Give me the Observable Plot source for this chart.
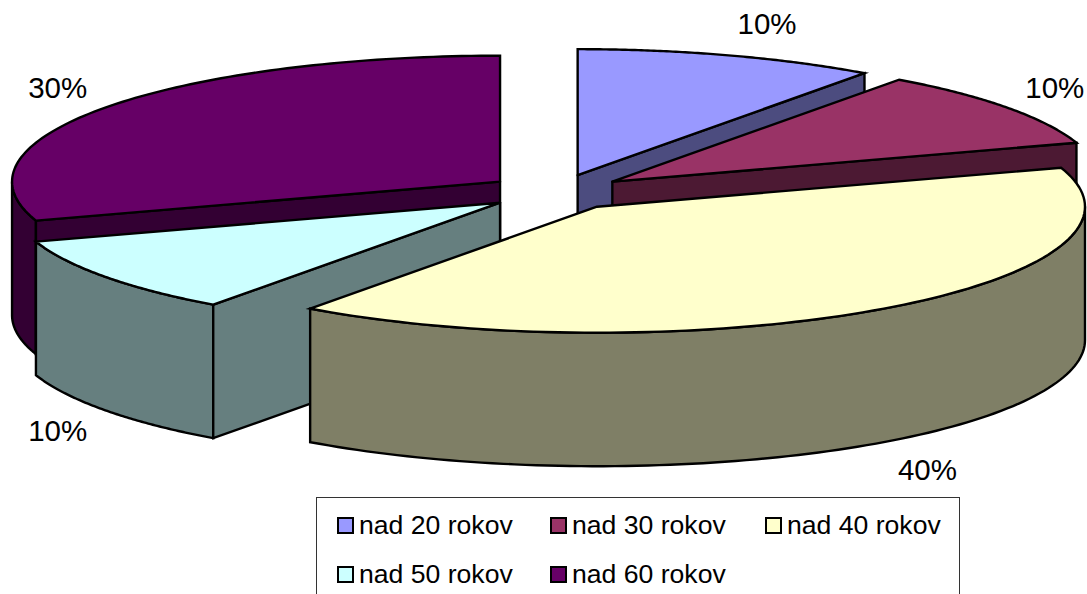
<!DOCTYPE html>
<html>
<head>
<meta charset="utf-8">
<script src="https://cdn.jsdelivr.net/npm/d3@7"></script>
<script src="https://cdn.jsdelivr.net/npm/@observablehq/plot@0.6"></script>
<style>
  html, body { margin: 0; padding: 0; background: #fff; overflow: hidden; }
  body { width: 1087px; height: 594px; position: relative; font-family: "Liberation Sans", Arial, sans-serif; color: #000; }
  svg { display: block; }
  #legend { position: absolute; left: 316px; top: 497px; width: 642px; height: 110px; border: 1px solid #333; box-sizing: content-box; background: #fff; }
  #legend .item { position: absolute; display: flex; align-items: center; font-size: 26.6px; line-height: 30px; white-space: nowrap; }
  #legend .swatch { width: 13px; height: 13px; border: 2px solid #000; margin-right: 5px; flex: none; }
</style>
</head>
<body>
<div id="chart"></div>
<div id="legend"></div>
<script>
const categories = ["nad 20 rokov", "nad 30 rokov", "nad 40 rokov", "nad 50 rokov", "nad 60 rokov"];
const values = [10, 10, 40, 10, 30];
const valueLabels = ["10%", "10%", "40%", "10%", "30%"];
const topColors = ["#9999FF", "#993366", "#FFFFCC", "#CCFFFF", "#660066"];
const sideColors = ["#4C4C7F", "#4C1933", "#7F7F66", "#667F7F", "#330033"];

// Geometry of the tilted pie, in pie units (radius 1 on the plane).
const W = 1087, H = 497;
const pxPerX = 488, pxPerY = 126;       // ellipse radii in pixels
const cx = 555.7, cy = 191.7;           // pie centre in pixels
const explode = 0.1422, depth = 133.5 / pxPerY;
const rad = d => d * Math.PI / 180;
const total = d3.sum(values);

let acc = 0;
const slices = values.map((v, i) => {
  const a0 = acc / total * 360;
  acc += v;
  const a1 = acc / total * 360;
  const mid = rad((a0 + a1) / 2);
  return {i, a0, a1, mid, ax: explode * Math.sin(mid), ay: explode * Math.cos(mid)};
});

const onRim = (s, a) => ({x: s.ax + Math.sin(rad(a)), y: s.ay + Math.cos(rad(a))});
const apex = s => ({x: s.ax, y: s.ay});
const drop = p => ({x: p.x, y: p.y - depth});
const arc = (s, a0, a1) => d3.range(0, 1.0001, 1 / 96).map(t => onRim(s, a0 + (a1 - a0) * t));
const close = pts => [...pts, pts[0]];

const topFace = s => close([apex(s), ...arc(s, s.a0, s.a1)]);
const wall = (s, a) => { const p = apex(s), q = onRim(s, a); return close([p, q, drop(q), drop(p)]); };
const outer = (s, a0, a1) => { const r = arc(s, a0, a1); return close([...r, ...r.slice().reverse().map(drop)]); };

const face = (pts, fill) => Plot.line(pts, {
  x: "x", y: "y", fill, stroke: "#000", strokeWidth: 2.4,
  strokeLinejoin: "miter", strokeMiterlimit: 4, curve: "linear"
});

const [s1, s2, s3, s4, s5] = slices;
const drawOrder = [
  face(wall(s1, s1.a1), sideColors[0]), face(topFace(s1), topColors[0]),
  face(wall(s2, s2.a1), sideColors[1]), face(topFace(s2), topColors[1]),
  face(outer(s5, s5.a0, 270), sideColors[4]), face(wall(s5, s5.a0), sideColors[4]), face(topFace(s5), topColors[4]),
  face(outer(s4, s4.a0, s4.a1), sideColors[3]), face(wall(s4, s4.a0), sideColors[3]), face(topFace(s4), topColors[3]),
  face(outer(s3, 90, s3.a1), sideColors[2]), face(topFace(s3), topColors[2])
];

// Percent labels sit just outside each slice's rim, along its bisector.
const labelData = slices.map(s => {
  const sx = Math.sin(s.mid), cy_ = Math.cos(s.mid);
  return {
    label: valueLabels[s.i],
    x: s.ax + 1.037 * sx + Math.sign(sx) * 33 / pxPerX,
    y: s.ay + 1.26 * cy_ - (cy_ < 0 ? depth + 2 / pxPerY : 0)
  };
});

const chart = Plot.plot({
  width: W, height: H, margin: 0,
  style: {background: "#fff"},
  x: {domain: [-cx / pxPerX, (W - cx) / pxPerX], range: [0, W], axis: null},
  y: {domain: [cy / pxPerY, (cy - H) / pxPerY], range: [0, H], axis: null},
  marks: [
    ...drawOrder,
    Plot.text(labelData, {
      x: "x", y: "y", text: "label", fill: "#000", textAnchor: "middle", lineAnchor: "middle",
      fontSize: 29.5, fontFamily: "'Liberation Sans', Arial, sans-serif"
    })
  ]
});
document.getElementById("chart").append(chart);

const legend = document.getElementById("legend");
categories.forEach((c, i) => {
  const item = document.createElement("div");
  item.className = "item";
  item.style.left = [20, 233, 448, 20, 233][i] + "px";
  item.style.top = (i < 3 ? 12 : 61) + "px";
  const sw = document.createElement("span");
  sw.className = "swatch";
  sw.style.background = topColors[i];
  const tx = document.createElement("span");
  tx.textContent = c;
  item.append(sw, tx);
  legend.append(item);
});
</script>
</body>
</html>
